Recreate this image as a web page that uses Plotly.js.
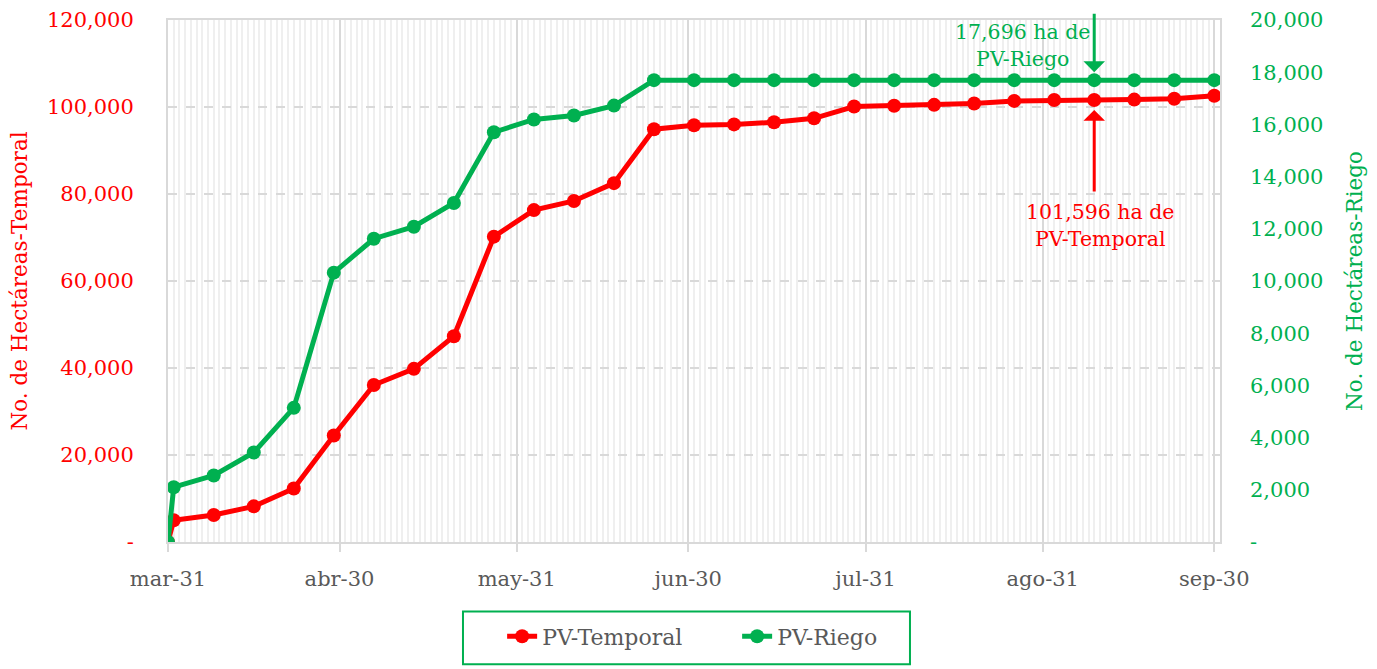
<!DOCTYPE html>
<html>
<head>
<meta charset="utf-8">
<script src="https://cdn.plot.ly/plotly-3.0.1.min.js"></script>
<style>html,body{margin:0;padding:0;background:#fff;}#chart{width:1377px;height:669px;}</style>
</head>
<body>
<div id="chart"></div>
<script>
// Weekly dates (year arbitrary)
const dates = ["2023-03-31","2023-04-01","2023-04-08","2023-04-15","2023-04-22","2023-04-29",
  "2023-05-06","2023-05-13","2023-05-20","2023-05-27","2023-06-03","2023-06-10","2023-06-17",
  "2023-06-24","2023-07-01","2023-07-08","2023-07-15","2023-07-22","2023-07-29","2023-08-05",
  "2023-08-12","2023-08-19","2023-08-26","2023-09-02","2023-09-09","2023-09-16","2023-09-23","2023-09-30"];
const temporal = [0,5000,6200,8200,12300,24500,36100,39800,47300,70200,76300,78400,82500,
  94900,95800,96000,96500,97400,100100,100300,100500,100800,101400,101600,101596,101700,101900,102600];
const riego = [0,2100,2550,3430,5140,10320,11620,12080,12990,15700,16190,16340,16720,
  17696,17696,17696,17696,17696,17696,17696,17696,17696,17696,17696,17696,17696,17696,17696];
const xTickVals = ["2023-03-31","2023-04-30","2023-05-31","2023-06-30","2023-07-31","2023-08-31","2023-09-30"];
const xTickText = ["mar-31","abr-30","may-31","jun-30","jul-31","ago-31","sep-30"];
const yTickVals = [0,20000,40000,60000,80000,100000,120000];
const yTickText = ["-","20,000","40,000","60,000","80,000","100,000","120,000"];
const y2TickVals = [0,2000,4000,6000,8000,10000,12000,14000,16000,18000,20000];
const y2TickText = ["-","2,000","4,000","6,000","8,000","10,000","12,000","14,000","16,000","18,000","20,000"];
const annDate = "2023-09-09";
const annTemporal = 101596;
const annRiego = 17696;

const RED = "#ff0000", GREEN = "#00b050", GRAY = "#595959";
const FONT = "DejaVu Serif";

const traces = [
  {x: dates, y: temporal, name: "PV-Temporal", type: "scatter", mode: "lines+markers",
   line: {color: RED, width: 5}, marker: {color: RED, size: 14}, yaxis: "y", hoverinfo: "skip"},
  {x: dates, y: riego, name: "PV-Riego", type: "scatter", mode: "lines+markers",
   line: {color: GREEN, width: 5}, marker: {color: GREEN, size: 14}, yaxis: "y2", hoverinfo: "skip"}
];

const layout = {
  width: 1377, height: 669,
  margin: {l: 168, r: 157, t: 20, b: 124},
  paper_bgcolor: "#fff", plot_bgcolor: "#fff",
  font: {family: FONT, size: 21, color: GRAY},
  showlegend: true,
  legend: {orientation: "h", x: 0.541, xanchor: "center", y: -0.181, yanchor: "middle",
    font: {family: FONT, size: 22, color: GRAY}, bgcolor: "rgba(0,0,0,0)", entrywidth: 190},
  xaxis: {
    type: "date", range: ["2023-03-31", "2023-10-01"], automargin: false,
    tickvals: xTickVals, ticktext: xTickText,
    tickfont: {family: FONT, size: 21, color: GRAY},
    showgrid: true, gridcolor: "#d9d9d9", gridwidth: 2,
    ticks: "outside", ticklen: 8, tickwidth: 2, tickcolor: "#d9d9d9",
    ticklabelstandoff: 9,
    showline: true, linecolor: "#d9d9d9", linewidth: 2, mirror: true,
    zeroline: false,
    minor: {dtick: 86400000, tick0: "2023-03-31", showgrid: true, gridcolor: "#efefef", gridwidth: 2, ticks: ""}
  },
  yaxis: {
    range: [0, 120000], tickvals: yTickVals, ticktext: yTickText, automargin: false,
    tickfont: {family: FONT, size: 21, color: RED},
    showgrid: true, gridcolor: "#d9d9d9", gridwidth: 2, griddash: "dash",
    showline: true, linecolor: "#d9d9d9", linewidth: 2, mirror: true,
    zeroline: false, ticks: "", ticklabelstandoff: 28,
    title: {text: "No. de Hectáreas-Temporal", font: {family: FONT, size: 21.5, color: RED}, standoff: 13}
  },
  yaxis2: {
    overlaying: "y", side: "right", automargin: false,
    range: [0, 20000], tickvals: y2TickVals, ticktext: y2TickText,
    tickfont: {family: FONT, size: 21, color: GREEN},
    showgrid: false, zeroline: false, ticks: "", ticklabelstandoff: 29,
    title: {text: "No. de Hectáreas-Riego", font: {family: FONT, size: 21.5, color: GREEN}, standoff: 24}
  },
  shapes: [
    {type: "rect", xref: "paper", yref: "paper", x0: 0.2804, x1: 0.7053, y0: -0.1333, y1: -0.2343,
     line: {color: GREEN, width: 2}, fillcolor: "rgba(0,0,0,0)"}
  ],
  annotations: [
    {x: annDate, y: annRiego, xref: "x", yref: "y2", text: "17,696 ha de<br>PV-Riego",
     showarrow: false, xanchor: "right", yanchor: "bottom", xshift: -2, yshift: 7, align: "center",
     font: {family: FONT, size: 20.5, color: GREEN}},
    {x: annDate, y: annRiego, xref: "x", yref: "y2", text: "", showarrow: true,
     ax: 0, ay: -68, standoff: 8, arrowcolor: GREEN, arrowwidth: 3, arrowhead: 1, arrowsize: 1.2},
    {x: annDate, y: annTemporal, xref: "x", yref: "y", text: "101,596 ha de<br>PV-Temporal",
     showarrow: false, xanchor: "center", yanchor: "top", xshift: 6, yshift: -98, align: "center",
     font: {family: FONT, size: 20.5, color: RED}},
    {x: annDate, y: annTemporal, xref: "x", yref: "y", text: "", showarrow: true,
     ax: 0, ay: 93, standoff: 10, arrowcolor: RED, arrowwidth: 3, arrowhead: 1, arrowsize: 1.2}
  ]
};

Plotly.newPlot("chart", traces, layout, {staticPlot: true, displayModeBar: false});
</script>
</body>
</html>
